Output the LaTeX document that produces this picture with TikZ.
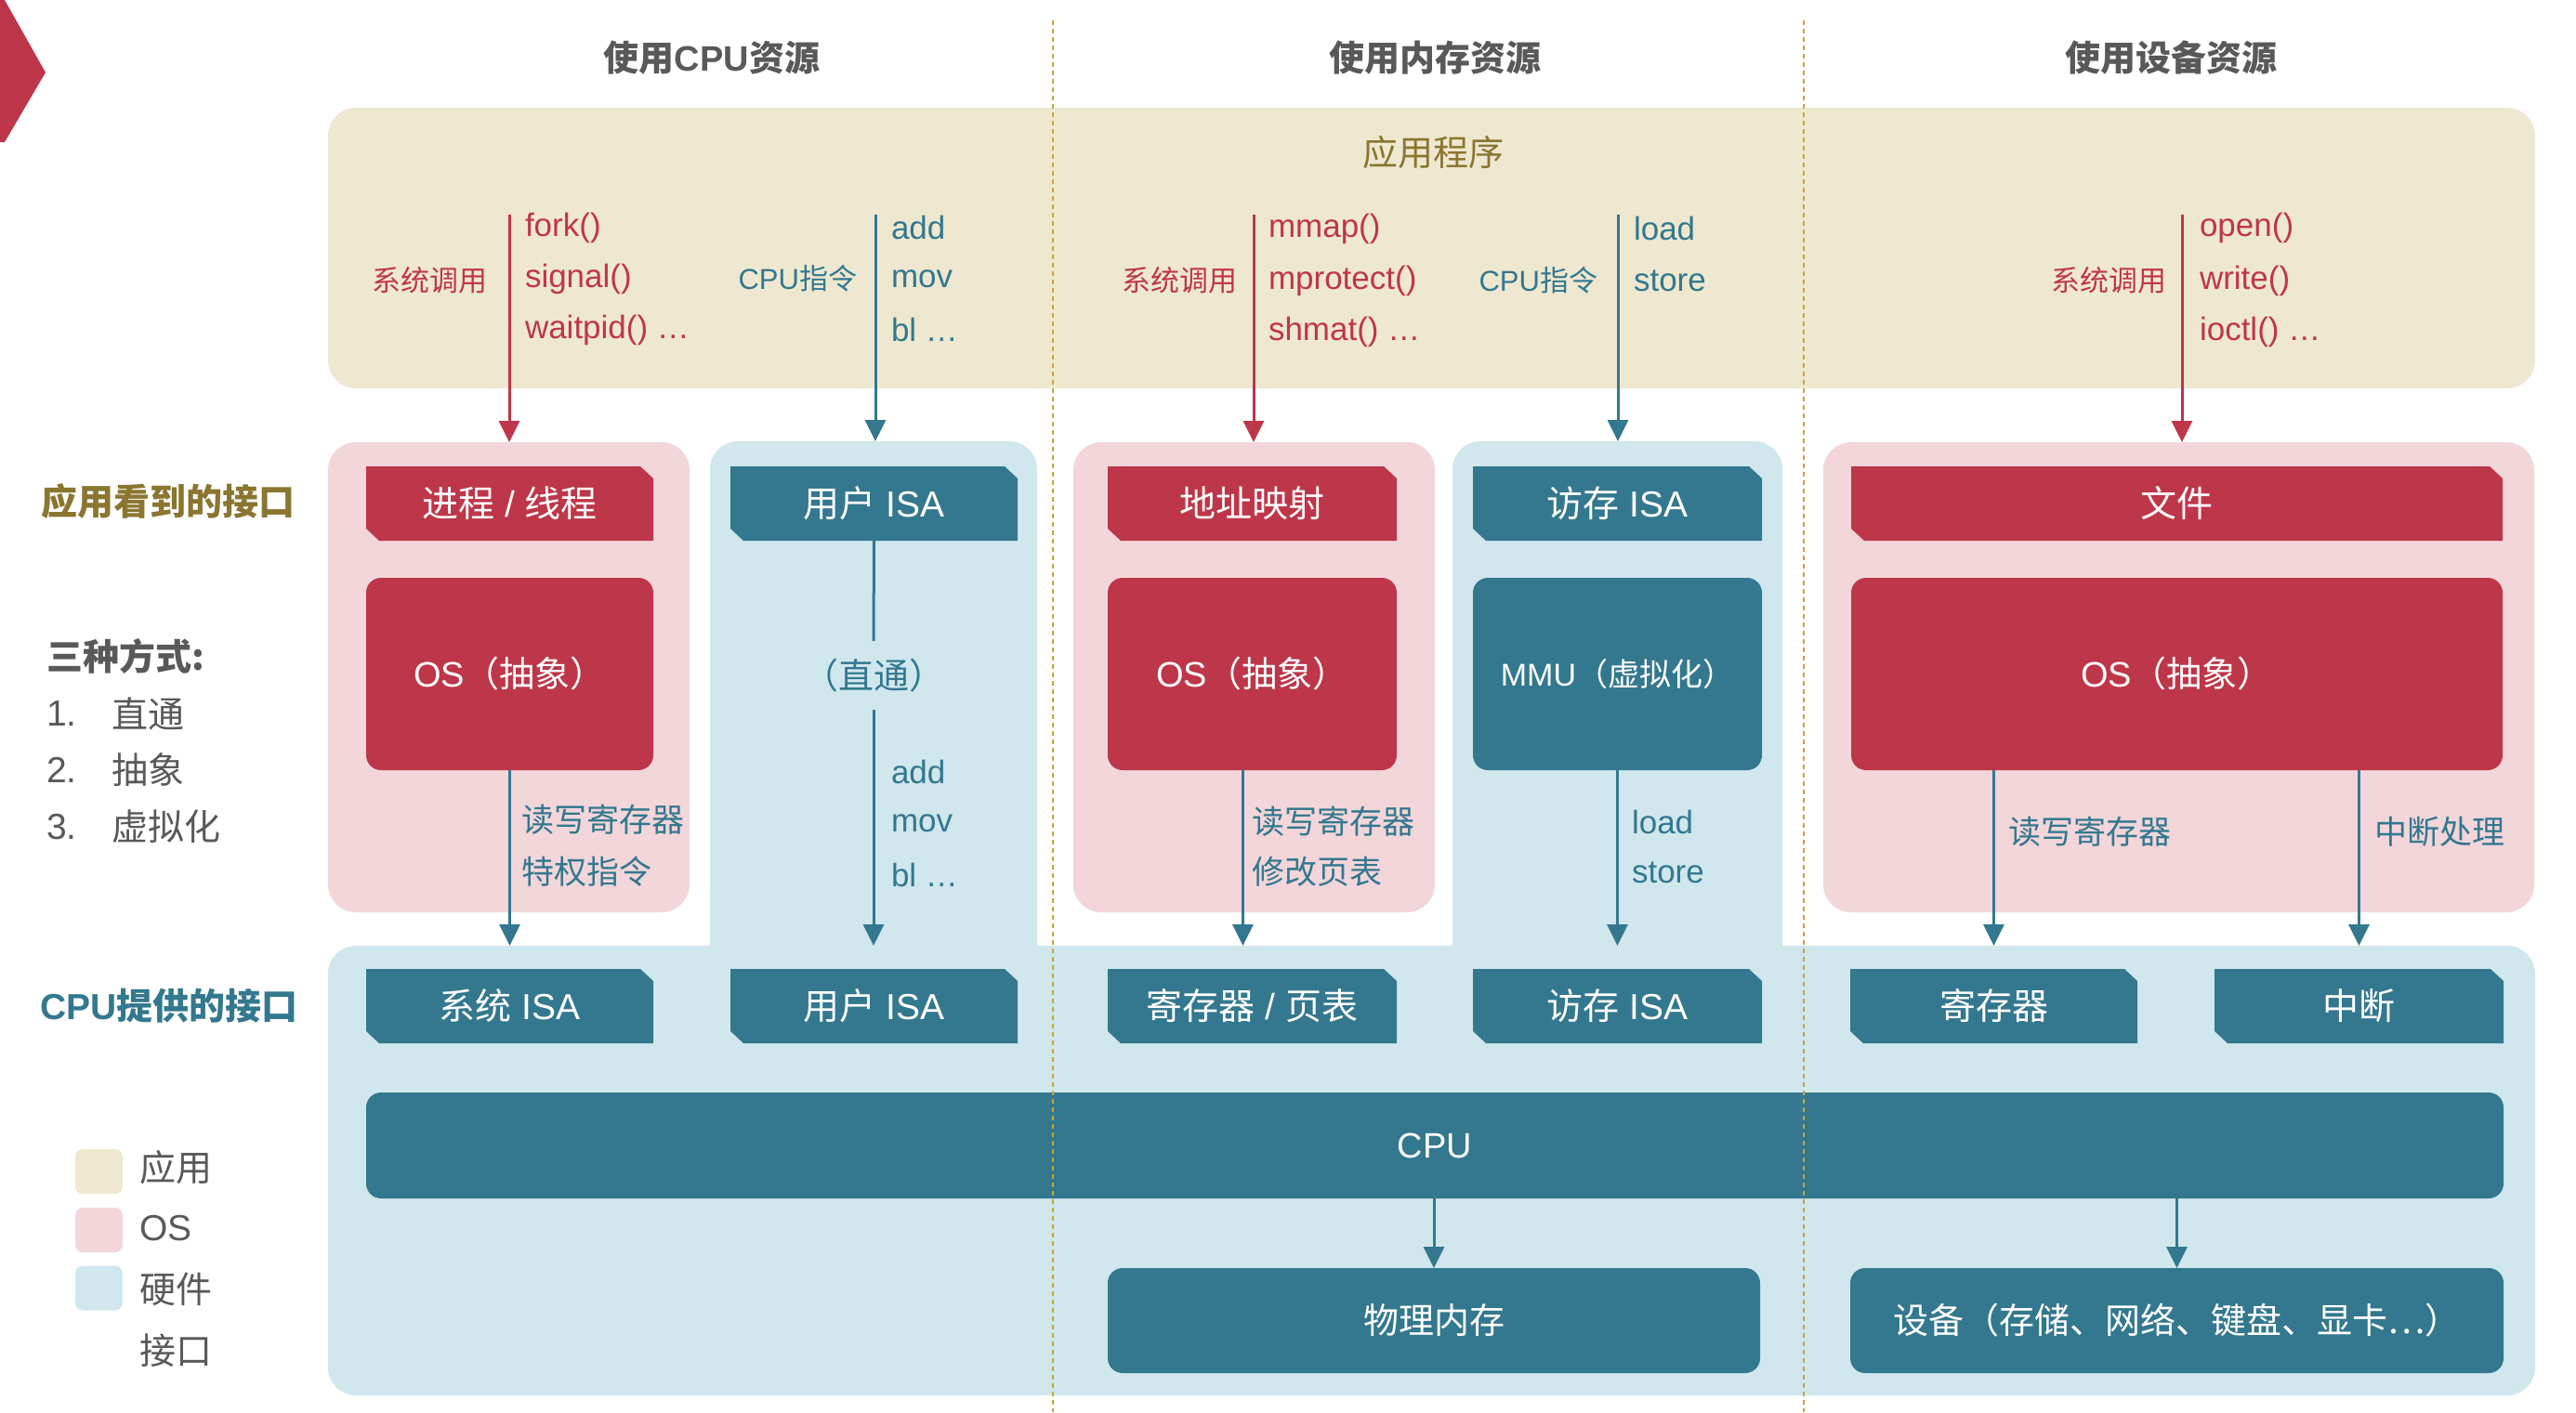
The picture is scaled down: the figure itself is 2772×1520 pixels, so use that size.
\documentclass[tikz,border=0pt]{standalone}
\usepackage{fontspec}
\setmainfont{Liberation Sans}
\newfontfamily\cjk{Noto Sans CJK SC}
\usetikzlibrary{arrows.meta}
\definecolor{cred}{HTML}{BE3649}
\definecolor{cteal}{HTML}{33788E}
\definecolor{ctan}{HTML}{EFE8D0}
\definecolor{cpink}{HTML}{F2D6DA}
\definecolor{cblue}{HTML}{D0E7EE}
\definecolor{colive}{HTML}{8A7630}
\definecolor{cgray}{HTML}{595959}
\definecolor{cgold}{HTML}{C9A43A}
\newcommand{\zh}[1]{{\cjk #1}}
\newcommand{\fs}[1]{\fontsize{#1}{#1}\selectfont}
\begin{document}
\begin{tikzpicture}[x=1pt,y=-1pt,
  every node/.style={inner sep=0pt,outer sep=0pt},
  region/.style={rectangle,rounded corners=30pt,draw=none},
  box/.style={rectangle,rounded corners=16pt,draw=none,text=white,font=\fs{38}},
  hdr/.style={rectangle,draw=none,minimum height=80pt,text=white,font=\fs{39},
    path picture={\fill[#1] (path picture bounding box.north west)
      -- ([xshift=-14pt]path picture bounding box.north east)
      -- ([yshift=-13pt]path picture bounding box.north east)
      -- (path picture bounding box.south east)
      -- ([xshift=14pt]path picture bounding box.south west)
      -- ([yshift=13pt]path picture bounding box.south west) -- cycle;}},
  latr/.style={anchor=west,text=cred,font=\fs{35}},
  latt/.style={anchor=west,text=cteal,font=\fs{35}},
  zhr/.style={anchor=east,text=cred,font=\cjk\fs{31}},
  zht/.style={anchor=east,text=cteal,font=\fs{31}},
  lowlbl/.style={anchor=west,text=cteal,font=\cjk\fs{35}},
  title/.style={text=cgray,font=\cjk\bfseries\fs{38}},
  side/.style={anchor=west,font=\cjk\bfseries\fs{39}},
  plain/.style={anchor=west,text=cgray,font=\fs{39}},
  legend/.style={rectangle,rounded corners=8pt,minimum width=51pt,minimum height=48pt},
  rline/.style={draw=cred,line width=3pt},
  tline/.style={draw=cteal,line width=3pt},
  rarrow/.style={rline,-{Triangle[length=23pt 0 1,width=22pt 0 1]}},
  tarrow/.style={tline,-{Triangle[length=23pt 0 1,width=22pt 0 1]}},
  sep/.style={draw=cgold,line width=2.5pt,dash pattern=on 5pt off 4pt}
]
\useasboundingbox (0,0) rectangle (2772,1520);
\fill[white] (0,0) rectangle (2772,1520);
% chevron
\fill[cred] (0,0) -- (5,0) -- (49,78) -- (5,153) -- (0,153) -- cycle;

% titles
\node[title] (t1) at (766,62) {使用\textbf{\rmfamily CPU}资源};
\node[title] (t2) at (1544,62) {使用内存资源};
\node[title] (t3) at (2336,62) {使用设备资源};

% regions
\node[region,fill=ctan,minimum width=2375pt,minimum height=302pt] (app) at (1540.5,267) {};
\node[region,fill=cpink,minimum width=389pt,minimum height=506pt] (P1) at (547.5,729) {};
\node[region,fill=cpink,minimum width=389pt,minimum height=506pt] (P2) at (1349.5,729) {};
\node[region,fill=cpink,minimum width=765pt,minimum height=506pt] (P3) at (2344.5,729) {};
\node[region,fill=cblue,minimum width=352pt,minimum height=585pt] (C1) at (940,767.5) {};
\node[region,fill=cblue,minimum width=355pt,minimum height=585pt] (C2) at (1740.5,767.5) {};
\node[region,fill=cblue,minimum width=2375pt,minimum height=484pt] (hw) at (1540.5,1260) {};

\node[text=colive,font=\cjk\fs{38}] (appt) at (1542,164) {应用程序};

% upper headers
\node[hdr=cred,minimum width=309pt] (H1) at (548.5,542) {\zh{进程} / \zh{线程}};
\node[hdr=cteal,minimum width=309pt] (H2) at (940.5,542) {\zh{用户} ISA};
\node[hdr=cred,minimum width=311pt] (H3) at (1347.5,542) {\zh{地址映射}};
\node[hdr=cteal,minimum width=311pt] (H4) at (1740.5,542) {\zh{访存} ISA};
\node[hdr=cred,minimum width=701pt] (H5) at (2342.5,542) {\zh{文件}};

% OS row
\node[box,fill=cred,minimum width=309pt,minimum height=207pt] (O1) at (548.5,725.5) {OS\zh{（抽象）}};
\node[box,fill=cred,minimum width=311pt,minimum height=207pt] (O2) at (1347.5,725.5) {OS\zh{（抽象）}};
\node[box,fill=cteal,minimum width=311pt,minimum height=207pt,font=\fs{34}] (M) at (1740.5,725.5) {MMU\zh{（虚拟化）}};
\node[box,fill=cred,minimum width=701pt,minimum height=207pt] (O3) at (2342.5,725.5) {OS\zh{（抽象）}};

% lower headers
\node[hdr=cteal,minimum width=309pt] (L1) at (548.5,1083) {\zh{系统} ISA};
\node[hdr=cteal,minimum width=309pt] (L2) at (940.5,1083) {\zh{用户} ISA};
\node[hdr=cteal,minimum width=311pt] (L3) at (1347.5,1083) {\zh{寄存器} / \zh{页表}};
\node[hdr=cteal,minimum width=311pt] (L4) at (1740.5,1083) {\zh{访存} ISA};
\node[hdr=cteal,minimum width=309pt] (L5) at (2145.5,1083) {\zh{寄存器}};
\node[hdr=cteal,minimum width=311pt] (L6) at (2538.5,1083) {\zh{中断}};

% hardware
\node[box,fill=cteal,minimum width=2300pt,minimum height=114pt] (cpu) at (1544,1233) {CPU};
\node[box,fill=cteal,minimum width=702pt,minimum height=113pt] (mem) at (1543,1421.5) {\zh{物理内存}};
\node[box,fill=cteal,minimum width=703pt,minimum height=113pt] (dev) at (2342.5,1421.5) {\zh{设备（存储、网络、键盘、显卡…）}};

% top labels
\node[zhr] (sc1) at (524,302) {系统调用};
\node[latr] (f1) at (565,245) {fork()};
\node[latr] (f2) at (565,300) {signal()};
\node[latr] (f3) at (565,355) {waitpid() …};
\node[zht] (ci1) at (922,300) {CPU\zh{指令}};
\node[latt] (i1) at (959,245) {add};
\node[latt] (i2) at (959,300) {mov};
\node[latt] (i3) at (959,355) {bl …};

\node[zhr] (sc2) at (1331,302) {系统调用};
\node[latr] (m1) at (1365,246) {mmap()};
\node[latr] (m2) at (1365,302) {mprotect()};
\node[latr] (m3) at (1365,357) {shmat() …};
\node[zht] (ci2) at (1719,302) {CPU\zh{指令}};
\node[latt] (ls1) at (1758,246) {load};
\node[latt] (ls2) at (1758,302) {store};

\node[zhr] (sc3) at (2331,302) {系统调用};
\node[latr] (d1) at (2367,245) {open()};
\node[latr] (d2) at (2367,302) {write()};
\node[latr] (d3) at (2367,357) {ioctl() …};

% lower labels
\node[lowlbl] (r1) at (561,882) {读写寄存器};
\node[lowlbl] (r2) at (561,938) {特权指令};
\node[text=cteal,font=\cjk\fs{38},inner ysep=19pt] (zt) at (940,727) {（直通）};
\node[latt] (u1) at (959,831) {add};
\node[latt] (u2) at (959,886) {mov};
\node[latt] (u3) at (959,942) {bl …};
\node[lowlbl] (r3) at (1347,884) {读写寄存器};
\node[lowlbl] (r4) at (1347,938) {修改页表};
\node[latt] (v1) at (1756,885) {load};
\node[latt] (v2) at (1756,939) {store};
\node[lowlbl] (r5) at (2161,895) {读写寄存器};
\node[lowlbl] (r6) at (2555,895) {中断处理};

% connectors: top
\coordinate (a1) at (548,231);
\coordinate (a2) at (942,231);
\coordinate (a3) at (1349,231);
\coordinate (a4) at (1741,231);
\coordinate (a5) at (2348,231);
\draw[rarrow] (a1) -- (a1 |- P1.north);
\draw[tarrow] (a2) -- (a2 |- C1.north);
\draw[rarrow] (a3) -- (a3 |- P2.north);
\draw[tarrow] (a4) -- (a4 |- C2.north);
\draw[rarrow] (a5) -- (a5 |- P3.north);

% connectors: middle
\draw[tarrow] (O1.south) -- (O1.south |- hw.north);
\draw[tline] (H2.south) -- (zt.north);
\draw[tarrow] (zt.south) -- (zt.south |- hw.north);
\coordinate (o2s) at ([xshift=-10pt]O2.south);
\draw[tarrow] (o2s) -- (o2s |- hw.north);
\draw[tarrow] (M.south) -- (M.south |- hw.north);
\coordinate (o3a) at (O3.south -| L5.north);
\coordinate (o3b) at (O3.south -| L6.north);
\draw[tarrow] (o3a) -- (o3a |- hw.north);
\draw[tarrow] (o3b) -- (o3b |- hw.north);

% connectors: cpu
\draw[tarrow] (cpu.south -| mem.north) -- (mem.north);
\draw[tarrow] (cpu.south -| dev.north) -- (dev.north);

% left side
\node[side,text=colive] (s1) at (44,540) {应用看到的接口};
\node[side,text=cgray] (s2) at (50,706) {三种方式:};
\node[plain] (n1) at (50,768) {1.};
\node[plain,font=\cjk\fs{39}] (w1) at (120,768) {直通};
\node[plain] (n2) at (50,829) {2.};
\node[plain,font=\cjk\fs{39}] (w2) at (120,829) {抽象};
\node[plain] (n3) at (50,890) {3.};
\node[plain,font=\cjk\fs{39}] (w3) at (120,890) {虚拟化};
\node[side,text=cteal] (s3) at (43,1083) {{\rmfamily\bfseries CPU}提供的接口};

% legend
\node[legend,fill=ctan] (lg1) at (106.5,1261) {};
\node[legend,fill=cpink] (lg2) at (106.5,1324) {};
\node[legend,fill=cblue] (lg3) at (106.5,1386.5) {};
\node[plain,font=\cjk\fs{39}] (lt1) at (150,1257) {应用};
\node[plain] (lt2) at (150,1322) {OS};
\node[plain,font=\cjk\fontsize{39}{66}\selectfont,align=left] (lt3) at (150,1421) {硬件\\接口};

% separators
\coordinate (d1t) at (1133,22);
\coordinate (d2t) at (1941,22);
\draw[sep] (d1t) -- (d1t |- 0,1520);
\draw[sep] (d2t) -- (d2t |- 0,1520);
\end{tikzpicture}
\end{document}
